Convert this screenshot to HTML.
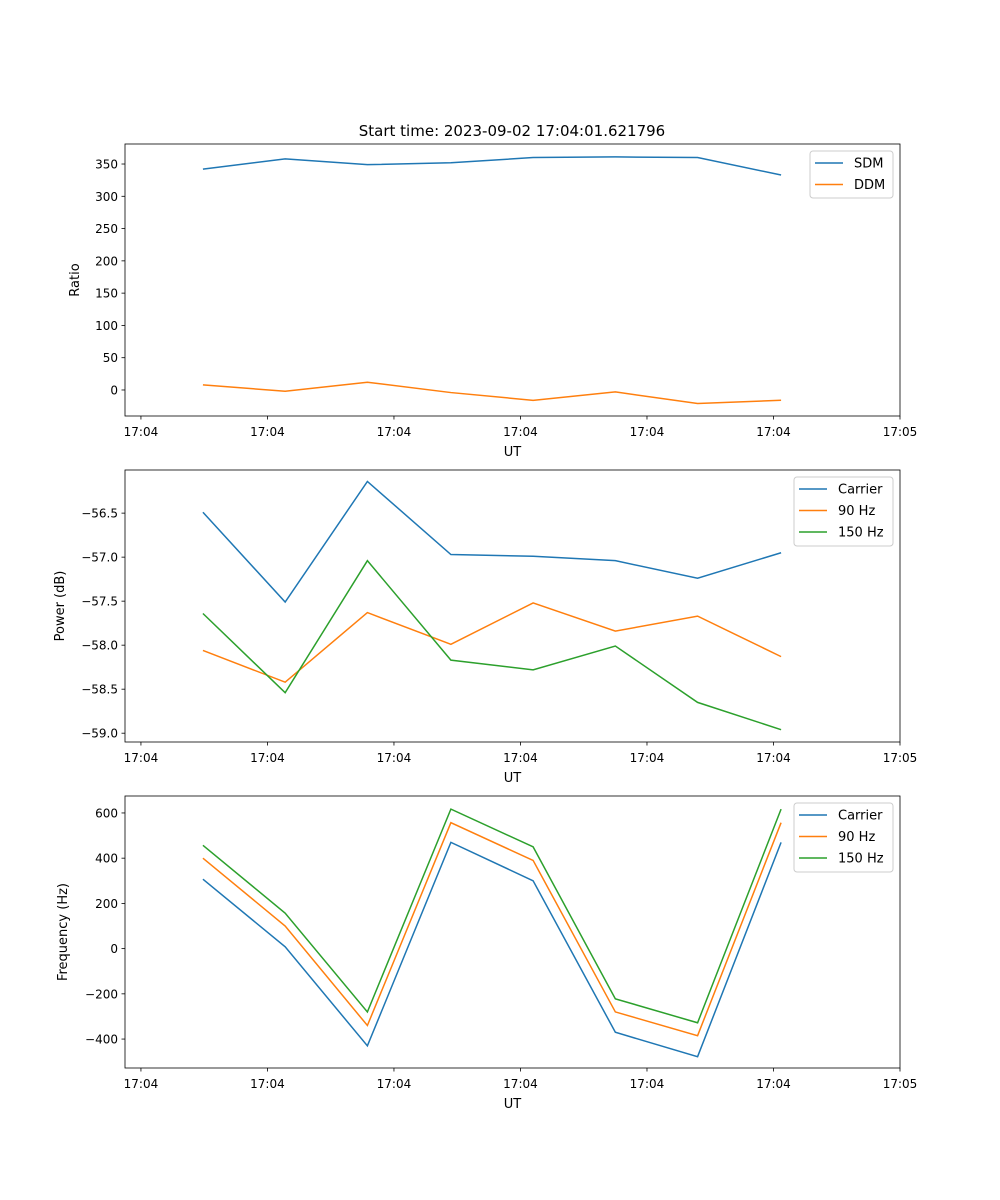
<!DOCTYPE html>
<html><head><meta charset="utf-8"><style>
body{margin:0;background:#fff;}
svg{display:block;font-family:"DejaVu Sans","Liberation Sans",sans-serif;}
</style></head><body>
<svg id="fig" width="1000" height="1200" xmlns="http://www.w3.org/2000/svg">
<text x="512" y="136" font-size="15" text-anchor="middle">Start time: 2023-09-02 17:04:01.621796</text>
</svg>
<script>
const times = [0.49, 1.14, 1.79, 2.45, 3.10, 3.75, 4.40, 5.06];
const xTickValues = [0, 1, 2, 3, 4, 5, 6];
const xTickLabels = ["17:04","17:04","17:04","17:04","17:04","17:04","17:05"];
const sdm = [342, 358, 349, 352, 360, 361, 360, 333];
const ddm = [8, -2, 12, -4, -16, -3, -21, -16];
const powCarrier = [-56.49, -57.51, -56.14, -56.97, -56.99, -57.04, -57.24, -56.95];
const pow90 = [-58.06, -58.42, -57.63, -57.99, -57.52, -57.84, -57.67, -58.13];
const pow150 = [-57.64, -58.54, -57.04, -58.17, -58.28, -58.01, -58.65, -58.96];
const freqCarrier = [307, 8, -430, 470, 300, -370, -478, 470];
const freq90 = [400, 100, -340, 557, 390, -280, -385, 557];
const freq150 = [457, 157, -280, 617, 450, -222, -328, 617];
const ticks1 = [0, 50, 100, 150, 200, 250, 300, 350];
const ticks2 = [-59.0, -58.5, -58.0, -57.5, -57.0, -56.5];
const ticks3 = [-400, -200, 0, 200, 400, 600];

const NS = "http://www.w3.org/2000/svg";
const svg = document.getElementById('fig');
function mk(tag, attrs, parent) {
  const e = document.createElementNS(NS, tag);
  for (const k in attrs) e.setAttribute(k, attrs[k]);
  (parent || svg).appendChild(e);
  return e;
}
const L = 125, R = 900, xd = [-0.126, 6];
const xs = v => L + (v - xd[0]) / (xd[1] - xd[0]) * (R - L);
const colors = ["#1f77b4", "#ff7f0e", "#2ca02c"];

function panel(name, top, bot, yd, yticks, fmt, ylabel, series, names, legend) {
  const g = mk('g', {});
  
  
  const ys = v => bot - (v - yd[0]) / (yd[1] - yd[0]) * (bot - top);
  series.forEach((s, i) => {
    const p = mk('polyline', {points: s.map((v, j) => xs(times[j]) + ',' + ys(v)).join(' '), fill: 'none', stroke: colors[i], 'stroke-width': 1.5}, g);
    
    
  });
  const fr = mk('rect', {x: L, y: top, width: R - L, height: bot - top, fill: 'none', stroke: '#000', 'stroke-width': 0.8}, g);
  
  
  xTickValues.forEach((v, i) => {
    const x = xs(v);
    mk('line', {x1: x, x2: x, y1: bot, y2: bot + 3.5, stroke: '#000', 'stroke-width': 0.8}, g);
    const t = mk('text', {x: x, y: bot + 20, 'font-size': 12, 'text-anchor': 'middle'}, g);
    t.textContent = xTickLabels[i];
    
    
  });
  yticks.forEach(v => {
    const y = ys(v);
    mk('line', {x1: L, x2: L - 3.5, y1: y, y2: y, stroke: '#000', 'stroke-width': 0.8}, g);
    const t = mk('text', {x: L - 7, y: y + 4.5, 'font-size': 12, 'text-anchor': 'end'}, g);
    t.textContent = fmt(v);
    
    
  });
  const xl = mk('text', {x: (L + R) / 2, y: bot + 40, 'font-size': 13, 'text-anchor': 'middle'}, g);
  xl.textContent = 'UT';
  
  
  const cy = (top + bot) / 2;
  const yl = mk('text', {x: legend.ylx, y: cy, 'font-size': 13, 'text-anchor': 'middle', transform: `rotate(-90 ${legend.ylx} ${cy})`}, g);
  yl.textContent = ylabel;
  
  
  const lg = mk('g', {}, g);
  
  
  mk('rect', {x: legend.x, y: top + 7, width: 893 - legend.x, height: 22 * names.length + 3, rx: 3, fill: '#fff', stroke: '#ccc', 'stroke-width': 1}, lg);
  names.forEach((n, i) => {
    const y = top + 19 + i * 21.5;
    mk('line', {x1: legend.x + 5, x2: legend.x + 33, y1: y, y2: y, stroke: colors[i], 'stroke-width': 1.5}, lg);
    const t = mk('text', {x: legend.x + 44, y: y + 4.5, 'font-size': 13}, lg);
    t.textContent = n;
    
    
  });
}
panel('ratio-panel', 144, 416, [-40.3, 381], ticks1, v => String(v), 'Ratio', [sdm, ddm], ['SDM', 'DDM'], {x: 810, ylx: 79});
panel('power-panel', 470, 742, [-59.10, -56.01], ticks2, v => '\u2212' + Math.abs(v).toFixed(1), 'Power (dB)', [powCarrier, pow90, pow150], ['Carrier', '90 Hz', '150 Hz'], {x: 794, ylx: 64});
panel('frequency-panel', 796, 1068, [-528, 675], ticks3, v => v < 0 ? '\u2212' + Math.abs(v) : String(v), 'Frequency (Hz)', [freqCarrier, freq90, freq150], ['Carrier', '90 Hz', '150 Hz'], {x: 794, ylx: 67});
</script>
</body></html>
